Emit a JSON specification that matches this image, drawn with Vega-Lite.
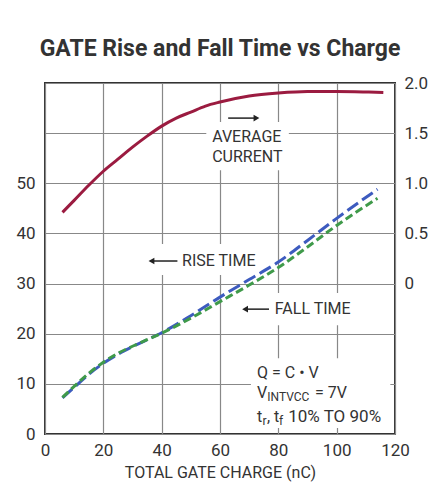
{
  "$schema": "https://vega.github.io/schema/vega-lite/v6.json",
  "width": 350,
  "height": 351,
  "autosize": {"type": "none"},
  "padding": {"left": 45, "top": 83, "right": 47, "bottom": 55},
  "background": "white",
  "config": {
    "font": "Roboto",
    "view": {"stroke": "#333333", "strokeWidth": 2},
    "axis": {
      "labelFont": "Roboto",
      "labelColor": "#333333",
      "labelFontSize": 17,
      "titleFont": "Roboto",
      "titleColor": "#333333",
      "titleFontSize": 16,
      "titleFontWeight": "normal",
      "gridColor": "#888888",
      "gridWidth": 1.2,
      "gridOpacity": 1,
      "domain": false,
      "ticks": false
    }
  },
  "title": {
    "text": "GATE Rise and Fall Time vs Charge",
    "font": "Roboto",
    "fontSize": 23,
    "fontWeight": "bold",
    "color": "#333333",
    "anchor": "middle",
    "offset": 13
  },
  "datasets": {
    "current": [
      {"q": 6, "cur": 0.71}, {"q": 10, "cur": 0.83}, {"q": 15, "cur": 0.98},
      {"q": 20, "cur": 1.12}, {"q": 25, "cur": 1.24}, {"q": 30, "cur": 1.36},
      {"q": 35, "cur": 1.47}, {"q": 40, "cur": 1.57}, {"q": 45, "cur": 1.65},
      {"q": 50, "cur": 1.71}, {"q": 55, "cur": 1.77}, {"q": 60, "cur": 1.81},
      {"q": 70, "cur": 1.87}, {"q": 80, "cur": 1.9}, {"q": 90, "cur": 1.915},
      {"q": 100, "cur": 1.915}, {"q": 110, "cur": 1.91}, {"q": 116, "cur": 1.905}
    ],
    "times": [
      {"q": 6, "t": 7.2, "series": "Rise"}, {"q": 10, "t": 9.3, "series": "Rise"},
      {"q": 15, "t": 11.9, "series": "Rise"}, {"q": 20, "t": 14.1, "series": "Rise"},
      {"q": 25, "t": 15.9, "series": "Rise"}, {"q": 30, "t": 17.4, "series": "Rise"},
      {"q": 35, "t": 18.8, "series": "Rise"}, {"q": 40, "t": 20.2, "series": "Rise"},
      {"q": 50, "t": 23.6, "series": "Rise"}, {"q": 60, "t": 27.3, "series": "Rise"},
      {"q": 70, "t": 30.8, "series": "Rise"}, {"q": 80, "t": 34.3, "series": "Rise"},
      {"q": 90, "t": 38.6, "series": "Rise"}, {"q": 100, "t": 43.0, "series": "Rise"},
      {"q": 114, "t": 48.8, "series": "Rise"},
      {"q": 6, "t": 7.3, "series": "Fall"}, {"q": 10, "t": 9.5, "series": "Fall"},
      {"q": 15, "t": 12.1, "series": "Fall"}, {"q": 20, "t": 14.3, "series": "Fall"},
      {"q": 25, "t": 16.1, "series": "Fall"}, {"q": 30, "t": 17.5, "series": "Fall"},
      {"q": 35, "t": 18.8, "series": "Fall"}, {"q": 40, "t": 20.1, "series": "Fall"},
      {"q": 50, "t": 23.1, "series": "Fall"}, {"q": 60, "t": 26.4, "series": "Fall"},
      {"q": 70, "t": 29.7, "series": "Fall"}, {"q": 80, "t": 33.2, "series": "Fall"},
      {"q": 90, "t": 37.3, "series": "Fall"}, {"q": 100, "t": 41.6, "series": "Fall"},
      {"q": 114, "t": 47.0, "series": "Fall"}
    ],
    "boxes": [
      {"q": 55.3, "q2": 83.6, "t": 52.6, "t2": 62.2},
      {"q": 32.4, "q2": 75, "t": 31.7, "t2": 37.9},
      {"q": 64.8, "q2": 106.8, "t": 21.7, "t2": 28.1},
      {"q": 70.6, "q2": 118.4, "t": 1.2, "t2": 15.1}
    ],
    "arrows": [
      {"q": 62.8, "q2": 72.5, "t": 63, "head": 72.5, "dir": "right"},
      {"q": 36.5, "q2": 45.4, "t": 34.5, "head": 36.5, "dir": "left"},
      {"q": 68.6, "q2": 76.8, "t": 24.9, "head": 68.6, "dir": "left"}
    ],
    "labels": [
      {"q": 57.3, "t": 59.2, "text": "AVERAGE", "kind": "main"},
      {"q": 57.3, "t": 55.2, "text": "CURRENT", "kind": "main"},
      {"q": 47.0, "t": 34.5, "text": "RISE TIME", "kind": "main"},
      {"q": 78.8, "t": 24.9, "text": "FALL TIME", "kind": "main"},
      {"q": 72.7, "t": 12.2, "text": "Q = C • V", "kind": "main"},
      {"q": 72.7, "t": 8.2, "text": "V", "kind": "main"},
      {"q": 76.2, "t": 7.4, "text": "INTVCC", "kind": "sub"},
      {"q": 92.6, "t": 8.2, "text": "= 7V", "kind": "main"},
      {"q": 72.7, "t": 3.4, "text": "t", "kind": "main"},
      {"q": 74.6, "t": 2.6, "text": "r", "kind": "sub"},
      {"q": 76.1, "t": 3.4, "text": ", t", "kind": "main"},
      {"q": 80.2, "t": 2.6, "text": "f", "kind": "sub"},
      {"q": 83.4, "t": 3.4, "text": "10% TO 90%", "kind": "big"}
    ]
  },
  "layer": [
    {
      "layer": [
        {
          "data": {"name": "boxes"},
          "mark": {"type": "rect", "fill": "white", "strokeWidth": 0},
          "encoding": {
            "x": {"field": "q", "type": "quantitative", "scale": {"domain": [0, 120]}, "title": "TOTAL GATE CHARGE (nC)"},
            "x2": {"field": "q2"},
            "y": {"field": "t", "type": "quantitative", "scale": {"domain": [0, 70]}, "title": null},
            "y2": {"field": "t2"}
          }
        },
        {
          "data": {"name": "times"},
          "mark": {"type": "line", "strokeWidth": 3, "interpolate": "monotone"},
          "encoding": {
            "x": {
              "field": "q", "type": "quantitative",
              "scale": {"domain": [0, 120]},
              "title": "TOTAL GATE CHARGE (nC)",
              "axis": {"values": [0, 20, 40, 60, 80, 100, 120], "grid": true, "labelPadding": 8, "titlePadding": 6, "labelFlush": false}
            },
            "y": {
              "field": "t", "type": "quantitative",
              "scale": {"domain": [0, 70]},
              "title": null,
              "axis": {"orient": "left", "values": [0, 10, 20, 30, 40, 50], "grid": true, "labelPadding": 10}
            },
            "color": {"field": "series", "type": "nominal", "scale": {"domain": ["Rise", "Fall"], "range": ["#3d5bbf", "#3f9a4a"]}, "legend": null},
            "strokeDash": {"field": "series", "type": "nominal", "scale": {"domain": ["Rise", "Fall"], "range": [[13, 5], [8, 4]]}, "legend": null}
          }
        },
        {
          "data": {"name": "arrows"},
          "mark": {"type": "rule", "color": "#222222", "strokeWidth": 1.5},
          "encoding": {
            "x": {"field": "q", "type": "quantitative", "title": "TOTAL GATE CHARGE (nC)"},
            "x2": {"field": "q2"},
            "y": {"field": "t", "type": "quantitative", "title": null}
          }
        },
        {
          "data": {"name": "arrows"},
          "mark": {"type": "point", "filled": true, "color": "#222222", "opacity": 1, "size": 45},
          "encoding": {
            "x": {"field": "head", "type": "quantitative", "title": "TOTAL GATE CHARGE (nC)"},
            "y": {"field": "t", "type": "quantitative", "title": null},
            "shape": {"field": "dir", "type": "nominal", "scale": {"domain": ["right", "left"], "range": ["triangle-right", "triangle-left"]}, "legend": null}
          }
        },
        {
          "data": {"name": "labels"},
          "transform": [{"filter": "datum.kind === 'main'"}],
          "mark": {"type": "text", "align": "left", "baseline": "middle", "fontSize": 16, "color": "#333333", "font": "Roboto"},
          "encoding": {
            "x": {"field": "q", "type": "quantitative", "title": "TOTAL GATE CHARGE (nC)"},
            "y": {"field": "t", "type": "quantitative", "title": null},
            "text": {"field": "text"}
          }
        },
        {
          "data": {"name": "labels"},
          "transform": [{"filter": "datum.kind === 'big'"}],
          "mark": {"type": "text", "align": "left", "baseline": "middle", "fontSize": 17, "color": "#333333", "font": "Roboto"},
          "encoding": {
            "x": {"field": "q", "type": "quantitative", "title": "TOTAL GATE CHARGE (nC)"},
            "y": {"field": "t", "type": "quantitative", "title": null},
            "text": {"field": "text"}
          }
        },
        {
          "data": {"name": "labels"},
          "transform": [{"filter": "datum.kind === 'sub'"}],
          "mark": {"type": "text", "align": "left", "baseline": "middle", "fontSize": 12, "color": "#333333", "font": "Roboto"},
          "encoding": {
            "x": {"field": "q", "type": "quantitative", "title": "TOTAL GATE CHARGE (nC)"},
            "y": {"field": "t", "type": "quantitative", "title": null},
            "text": {"field": "text"}
          }
        }
      ]
    },
    {
      "data": {"name": "current"},
      "mark": {"type": "line", "strokeWidth": 3, "color": "#9b1b40", "interpolate": "monotone"},
      "encoding": {
        "x": {"field": "q", "type": "quantitative", "title": "TOTAL GATE CHARGE (nC)"},
        "y": {
          "field": "cur", "type": "quantitative",
          "scale": {"domain": [-1.5, 2]},
          "title": null,
          "axis": {"orient": "right", "values": [0, 0.5, 1, 1.5, 2], "grid": true, "labelPadding": 9, "labelExpr": "datum.value == 0 ? '0' : format(datum.value, '.1f')"}
        }
      }
    }
  ],
  "resolve": {"scale": {"y": "independent"}}
}
